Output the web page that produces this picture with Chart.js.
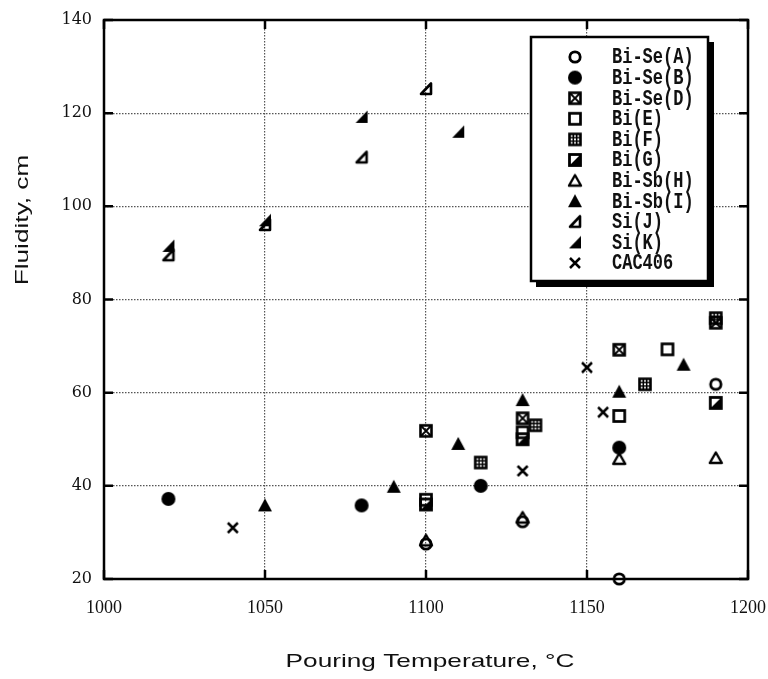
<!DOCTYPE html>
<html>
<head>
<meta charset="utf-8">
<title>Fluidity vs Pouring Temperature</title>
<script src="https://cdn.jsdelivr.net/npm/chart.js@4.4.0/dist/chart.umd.min.js"></script>
<style>
  html, body { margin: 0; padding: 0; background: #fff; }
</style>
</head>
<body>
<canvas id="fluidityChart" width="768" height="679"></canvas>
<script>
// pouring temperature (°C) and fluidity (cm) for each alloy
const biSeA_t = [1100, 1130, 1160, 1190];
const biSeA_f = [27.5, 32.3, 20, 61.8];
const biSeB_t = [1020, 1080, 1117, 1160];
const biSeB_f = [37.2, 35.8, 40, 48.2];
const biSeD_t = [1100, 1130, 1160, 1190];
const biSeD_f = [51.8, 54.5, 69.2, 75];
const biE_t = [1100, 1130, 1160, 1175];
const biE_f = [37, 51.5, 55, 69.3];
const biF_t = [1117, 1134, 1168, 1190];
const biF_f = [45, 53, 61.8, 76];
const biG_t = [1100, 1130, 1190];
const biG_f = [36, 50, 57.8];
const biSbH_t = [1100, 1130, 1160, 1190];
const biSbH_f = [28.3, 33.2, 45.8, 46];
const biSbI_t = [1050, 1090, 1110, 1130, 1160, 1180];
const biSbI_f = [35.8, 39.8, 49, 58.4, 60.2, 66];
const siJ_t = [1020, 1050, 1080, 1100];
const siJ_f = [89.5, 96, 110.5, 125.2];
const siK_t = [1020, 1050, 1080, 1110];
const siK_f = [91.5, 97, 119.2, 116];
const cac_t = [1040, 1130, 1150, 1155];
const cac_f = [31, 43.2, 65.4, 55.8];

const xTicks = [1000, 1050, 1100, 1150, 1200];
const yTicks = [20, 40, 60, 80, 100, 120, 140];

function pts(t, f) {
  return t.map((v, i) => ({ x: v, y: f[i] }));
}

// small canvases used as point styles
function marker(draw) {
  const c = document.createElement('canvas');
  c.width = 18; c.height = 18;
  const g = c.getContext('2d');
  g.strokeStyle = '#000';
  g.fillStyle = '#000';
  g.lineWidth = 2.4;
  draw(g);
  return c;
}
function poly(g, p) {
  g.beginPath();
  g.moveTo(p[0][0], p[0][1]);
  for (let i = 1; i < p.length; i++) g.lineTo(p[i][0], p[i][1]);
  g.closePath();
}

const mkOpenCircle = marker(g => { g.lineWidth = 2.8; g.beginPath(); g.arc(9, 9, 5.2, 0, Math.PI * 2); g.stroke(); });
const mkFilledCircle = marker(g => { g.beginPath(); g.arc(9, 9, 7, 0, Math.PI * 2); g.fill(); });
const mkSquareX = marker(g => {
  g.lineWidth = 2.6; g.strokeRect(3.5, 3.5, 11, 11);
  g.lineWidth = 1.8;
  g.beginPath(); g.moveTo(4, 4); g.lineTo(14, 14); g.moveTo(14, 4); g.lineTo(4, 14); g.stroke();
});
const mkOpenSquare = marker(g => { g.lineWidth = 2.7; g.strokeRect(3.5, 3.5, 11, 11); });
const mkGridSquare = marker(g => {
  g.lineWidth = 2.6; g.strokeRect(3.5, 3.5, 11, 11);
  g.lineWidth = 1.5;
  g.beginPath();
  g.moveTo(7.3, 4); g.lineTo(7.3, 14); g.moveTo(10.7, 4); g.lineTo(10.7, 14);
  g.moveTo(4, 7.3); g.lineTo(14, 7.3); g.moveTo(4, 10.7); g.lineTo(14, 10.7);
  g.stroke();
});
const mkHalfSquare = marker(g => {
  poly(g, [[14, 4], [14, 14], [4, 14]]); g.fill();
  g.lineWidth = 2.8; g.strokeRect(3.5, 3.5, 11, 11);
});
const mkOpenTri = marker(g => { g.lineWidth = 2.4; g.lineJoin = 'round'; poly(g, [[9, 3.5], [15, 14], [3, 14]]); g.stroke(); });
const mkFilledTri = marker(g => { poly(g, [[9, 2], [16, 15], [2, 15]]); g.fill(); });
const mkRightTriOpen = marker(g => { g.lineWidth = 2.6; g.lineJoin = 'round'; poly(g, [[14, 3.5], [14, 14], [4, 14]]); g.stroke(); });
const mkRightTriFilled = marker(g => { poly(g, [[15, 2.5], [15, 15], [3, 15]]); g.fill(); });
const mkCross = marker(g => {
  g.lineWidth = 2.5;
  g.beginPath(); g.moveTo(4, 4); g.lineTo(14, 14); g.moveTo(14, 4); g.lineTo(4, 14); g.stroke();
});

function ds(label, t, f, style) {
  return { label: label, data: pts(t, f), pointStyle: style, pointRadius: 8, pointHoverRadius: 8, clip: false };
}

const data = {
  datasets: [
    ds('Bi-Se(A)', biSeA_t, biSeA_f, mkOpenCircle),
    ds('Bi-Se(B)', biSeB_t, biSeB_f, mkFilledCircle),
    ds('Bi-Se(D)', biSeD_t, biSeD_f, mkSquareX),
    ds('Bi(E)', biE_t, biE_f, mkOpenSquare),
    ds('Bi(F)', biF_t, biF_f, mkGridSquare),
    ds('Bi(G)', biG_t, biG_f, mkHalfSquare),
    ds('Bi-Sb(H)', biSbH_t, biSbH_f, mkOpenTri),
    ds('Bi-Sb(I)', biSbI_t, biSbI_f, mkFilledTri),
    ds('Si(J)', siJ_t, siJ_f, mkRightTriOpen),
    ds('Si(K)', siK_t, siK_f, mkRightTriFilled),
    ds('CAC406', cac_t, cac_f, mkCross)
  ]
};

// the scanned titles are wider than any installed font, so stretch them a bit
function stretchedText(ctx, text, x, y, angle) {
  ctx.save();
  ctx.translate(x, y);
  ctx.rotate(angle);
  ctx.scale(1.38, 1);
  ctx.font = '19px "Liberation Sans", Arial, sans-serif';
  ctx.fillStyle = '#111';
  ctx.textAlign = 'center';
  ctx.textBaseline = 'middle';
  ctx.fillText(text, 0, 0);
  ctx.restore();
}

// frame with inward tick marks, titles and the boxed legend
const framePlugin = {
  id: 'frame',
  beforeDatasetsDraw(chart) {
    const { ctx, chartArea: a, scales } = chart;
    ctx.save();
    ctx.strokeStyle = '#000';
    ctx.lineWidth = 2.5;
    ctx.strokeRect(a.left, a.top, a.right - a.left, a.bottom - a.top);
    ctx.beginPath();
    xTicks.forEach(v => {
      const px = scales.x.getPixelForValue(v);
      ctx.moveTo(px, a.bottom); ctx.lineTo(px, a.bottom - 9);
      ctx.moveTo(px, a.top); ctx.lineTo(px, a.top + 9);
    });
    yTicks.forEach(v => {
      const py = scales.y.getPixelForValue(v);
      ctx.moveTo(a.left, py); ctx.lineTo(a.left + 9, py);
      ctx.moveTo(a.right, py); ctx.lineTo(a.right - 9, py);
    });
    ctx.stroke();
    ctx.restore();
  },
  afterDraw(chart) {
    const ctx = chart.ctx;
    stretchedText(ctx, 'Fluidity, cm', 23, 220, -Math.PI / 2);
    stretchedText(ctx, 'Pouring Temperature, °C', 430, 662, 0);

    const L = 531, T = 37, R = 708, B = 281;
    ctx.save();
    ctx.fillStyle = '#000';
    ctx.fillRect(L + 5, T + 5, R - L + 1, B - T + 1);
    ctx.fillStyle = '#fff';
    ctx.fillRect(L, T, R - L, B - T);
    ctx.strokeStyle = '#000';
    ctx.lineWidth = 2.5;
    ctx.strokeRect(L, T, R - L, B - T);
    ctx.fillStyle = '#111';
    ctx.textBaseline = 'middle';
    chart.data.datasets.forEach((d, i) => {
      const y = 57 + i * 20.6;
      const m = d.pointStyle;
      ctx.drawImage(m, 575 - m.width / 2, y - m.height / 2);
      ctx.save();
      ctx.translate(612, y + 1);
      ctx.scale(1, 1.25);
      ctx.font = 'bold 17px "Liberation Mono", monospace';
      ctx.fillText(d.label, 0, 0);
      ctx.restore();
    });
    ctx.restore();
  }
};

new Chart(document.getElementById('fluidityChart'), {
  type: 'scatter',
  data: data,
  options: {
    responsive: false,
    animation: false,
    layout: { padding: { top: 20, right: 20, left: 0, bottom: 0 } },
    plugins: { legend: { display: false }, tooltip: { enabled: false } },
    elements: { point: { borderColor: '#000', backgroundColor: '#000' } },
    scales: {
      x: {
        type: 'linear',
        min: 1000, max: 1200,
        afterFit: s => { s.height = 100; s.paddingLeft = 0; s.paddingRight = 0; },
        afterBuildTicks: s => { s.ticks = xTicks.map(v => ({ value: v })); },
        ticks: {
          padding: 18, color: '#111',
          font: { family: '"Liberation Serif", serif', size: 18 },
          callback: v => String(v)
        },
        grid: { color: '#555', lineWidth: 1.2, drawTicks: false },
        border: { display: false, dash: [1.5, 1.5] }
      },
      y: {
        type: 'linear',
        min: 20, max: 140,
        afterFit: s => { s.width = 104; s.paddingTop = 0; s.paddingBottom = 0; },
        afterBuildTicks: s => { s.ticks = yTicks.map(v => ({ value: v })); },
        ticks: { padding: 12, color: '#111', font: { family: '"DejaVu Serif", serif', size: 16 } },
        grid: { color: '#555', lineWidth: 1.2, drawTicks: false },
        border: { display: false, dash: [1.5, 1.5] }
      }
    }
  },
  plugins: [framePlugin]
});
</script>
</body>
</html>
